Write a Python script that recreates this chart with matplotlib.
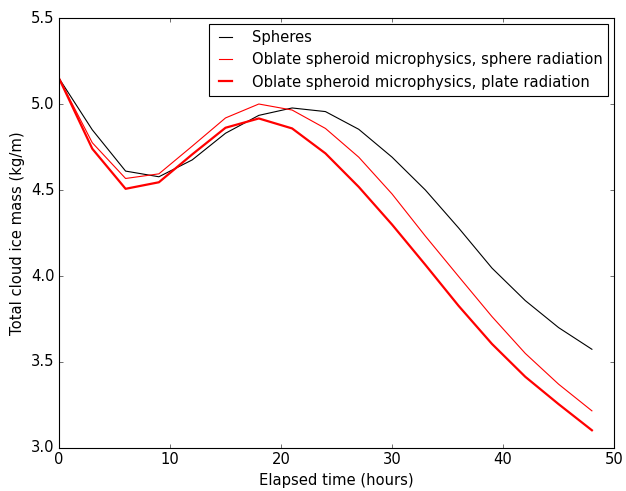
import numpy as np
import matplotlib
matplotlib.use('Agg')
from matplotlib import pyplot as plt

plt.style.use('classic')
plt.rcParams['font.size'] = 13.3

# model output every 3 hours
hours = [0, 3, 6, 9, 12, 15, 18, 21, 24, 27, 30, 33, 36, 39, 42, 45, 48]
spheres = [5.15, 4.85, 4.61, 4.577, 4.675, 4.83, 4.934, 4.977, 4.956, 4.853,
           4.691, 4.5, 4.279, 4.046, 3.857, 3.70, 3.574]
oblate_sphere_rad = [5.15, 4.775, 4.567, 4.594, 4.755, 4.919, 5.0, 4.965, 4.858,
                     4.691, 4.477, 4.232, 3.997, 3.764, 3.55, 3.371, 3.216]
oblate_plate_rad = [5.15, 4.74, 4.507, 4.545, 4.707, 4.862, 4.916, 4.858, 4.713,
                    4.518, 4.299, 4.065, 3.826, 3.605, 3.414, 3.255, 3.103]

fig = plt.figure(figsize=(626 / 80.0, 491 / 80.0), dpi=80, facecolor='white')
ax = fig.add_axes([0.0942, 0.0876, 0.8868, 0.8757])

ax.plot(hours, spheres, color='k', lw=1.0, label='Spheres')
ax.plot(hours, oblate_sphere_rad, color='r', lw=1.0,
        label='Oblate spheroid microphysics, sphere radiation')
ax.plot(hours, oblate_plate_rad, color='r', lw=2.0,
        label='Oblate spheroid microphysics, plate radiation')

ax.set_xlim(0, 50)
ax.set_ylim(3.0, 5.5)
ax.set_xticks(np.arange(0, 51, 10))
ax.set_yticks(np.arange(3.0, 5.51, 0.5))
ax.set_yticklabels(['%.1f' % v for v in np.arange(3.0, 5.51, 0.5)])
ax.tick_params(labelsize=13.3)
ax.set_xlabel('Elapsed time (hours)', fontsize=13.3)
ax.set_ylabel('Total cloud ice mass (kg/m)', fontsize=13.3)
ax.legend(loc='upper right', fontsize=13.3, handlelength=1.5,
          handletextpad=1.0, borderaxespad=0.4)

fig.savefig('out.png', dpi=80, facecolor='white')
